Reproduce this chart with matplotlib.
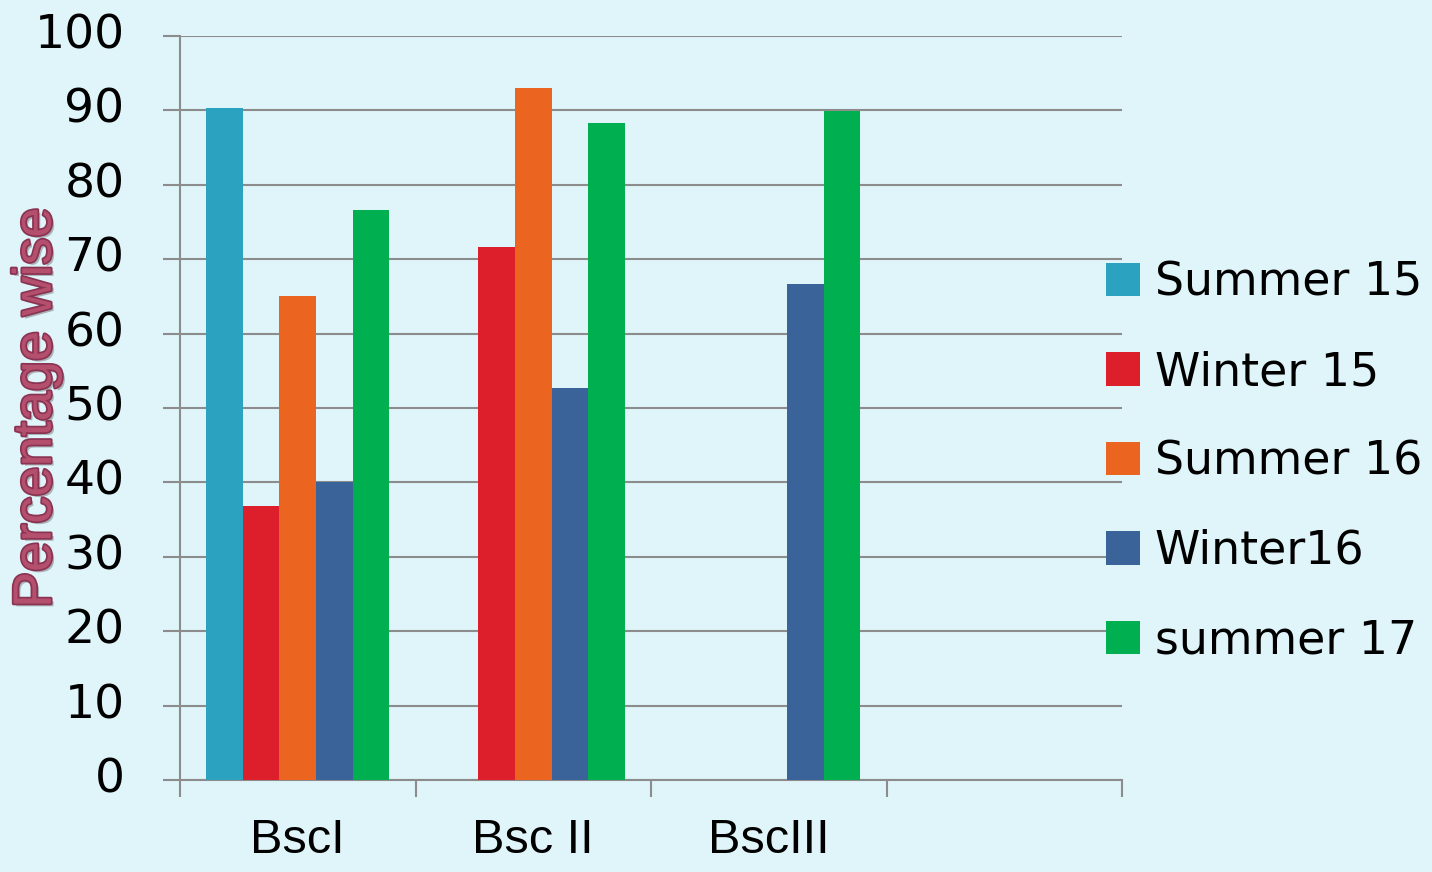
import matplotlib.pyplot as plt
import matplotlib.patheffects as pe
import numpy as np

categories = ["BscI", "Bsc II", "BscIII", ""]
series = ["Summer 15", "Winter 15", "Summer 16", "Winter16", "summer 17"]
summer15 = [90.3, 0, 0, 0]
winter15 = [36.8, 71.6, 0, 0]
summer16 = [65.0, 93.0, 0, 0]
winter16 = [40.0, 52.7, 66.7, 0]
summer17 = [76.6, 88.3, 89.9, 0]
values = [summer15, winter15, summer16, winter16, summer17]
colors = ["#2ba3c0", "#dc1f2a", "#eb6420", "#3a6399", "#00b050"]

bg = "#dff5fa"
grid_c = "#8c8c8c"

fig = plt.figure(figsize=(14.32, 8.72), dpi=100, facecolor=bg)
ax = fig.add_axes([180 / 1432, 1 - 780 / 872, 942 / 1432, 744 / 872])
ax.set_facecolor(bg)

x = np.arange(len(categories))
w = 0.155
for i, (name, vals, c) in enumerate(zip(series, values, colors)):
    ax.bar(x + (i - 2) * w, vals, w, color=c, label=name, zorder=3)

ax.set_xlim(-0.5, 3.5)
ax.set_ylim(0, 100)
ax.set_yticks(np.arange(0, 101, 10))
ax.yaxis.grid(True, color=grid_c, lw=1.5, zorder=0)
for s in ["top", "right"]:
    ax.spines[s].set_visible(False)
for s in ["left", "bottom"]:
    ax.spines[s].set_color(grid_c)
    ax.spines[s].set_linewidth(1.5)

ax.tick_params(axis="y", length=12, width=1.5, color=grid_c, labelsize=34, pad=28)
for lab in ax.get_yticklabels():
    lab.set_verticalalignment("center")

ax.set_xticks(x)
ax.set_xticklabels(categories, fontsize=35, family=["Liberation Sans Narrow", "Liberation Sans", "DejaVu Sans"])
ax.set_xticks(np.arange(-0.5, 4, 1), minor=True)
ax.tick_params(axis="x", which="major", length=0, pad=27)
ax.tick_params(axis="x", which="minor", length=12, width=1.5, color=grid_c)

# y label with a bit of bevel / shadow like the original
ax.set_ylabel("Percentage wise", fontsize=39, color="#b4506e",
              family=["Liberation Sans Narrow", "Liberation Sans", "DejaVu Sans"],
              path_effects=[pe.withSimplePatchShadow(offset=(2, -2), shadow_rgbFace="#666666", alpha=0.45),
                            pe.withStroke(linewidth=2.5, foreground="#8a3352")])
ax.yaxis.set_label_coords(-0.152, 0.5)
ax.yaxis.label.set_verticalalignment("center")

leg = fig.legend(loc="center left", bbox_to_anchor=(1088 / 1432, 1 - 462 / 872),
                 fontsize=33, frameon=False, handlelength=0.74, handleheight=0.74,
                 handletextpad=0.32, labelspacing=0.97, borderaxespad=0)

fig.savefig("out.png", dpi=100, facecolor=bg)
